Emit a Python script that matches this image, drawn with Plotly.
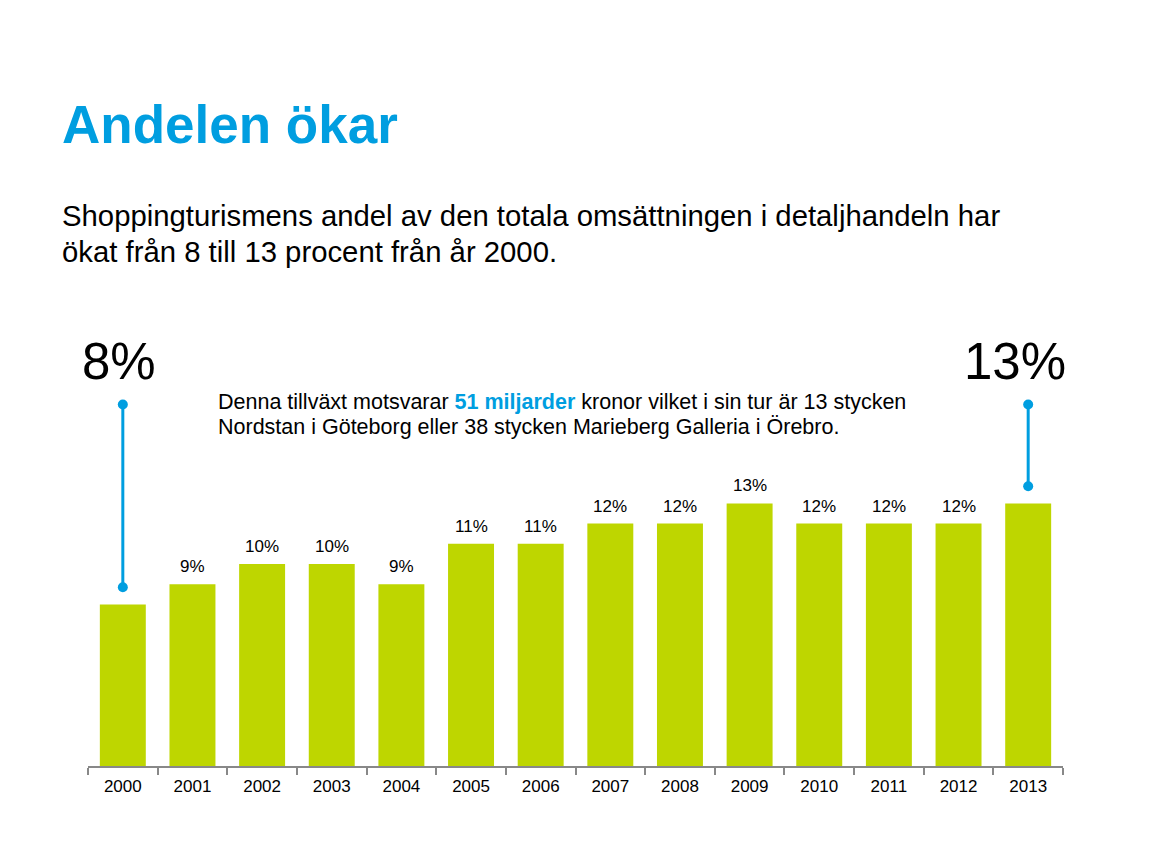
import plotly.graph_objects as go

years = ["2000", "2001", "2002", "2003", "2004", "2005", "2006",
         "2007", "2008", "2009", "2010", "2011", "2012", "2013"]
shares = [8, 9, 10, 10, 9, 11, 11, 12, 12, 13, 12, 12, 12, 13]
bar_labels = ["", "9%", "10%", "10%", "9%", "11%", "11%", "12%", "12%", "13%",
              "12%", "12%", "12%", ""]
highlight_years = ["2000", "2013"]
highlight_values = [8, 13]
highlight_texts = ["8%", "13%"]

GREEN = "#bed600"
BLUE = "#009ee0"
FONT = "Liberation Sans, Arial, sans-serif"

# page renders figure offset by 8px; work in page pixels and convert
OFF = 8
W, H = 1168, 854
L, R, T, B = 88 - OFF, 1168 - (1063 - OFF), 362 - OFF, 854 - (766 - OFF)
PW, PH = W - L - R, H - T - B


def px(x):
    return (x - OFF - L) / PW


def py(y):
    return (H - B - (y - OFF)) / PH


fig = go.Figure()
fig.add_trace(go.Bar(
    x=years, y=shares, marker=dict(color=GREEN, line=dict(width=0)),
    width=0.66, hoverinfo="skip", showlegend=False,
))

# bar value labels
for i, (v, lab) in enumerate(zip(shares, bar_labels)):
    if lab:
        fig.add_annotation(x=i, y=v, text=lab, showarrow=False,
                           yanchor="bottom", yshift=6,
                           font=dict(family=FONT, size=17, color="#000000"))

# highlight connectors
line_top = 17.9
text_shift = {"2000": -0.05, "2013": -0.19}
for yr, v, t in zip(highlight_years, highlight_values, highlight_texts):
    idx = years.index(yr)
    fig.add_trace(go.Scatter(
        x=[yr, yr], y=[v + 0.85, line_top], mode="lines+markers",
        line=dict(color=BLUE, width=3), marker=dict(color=BLUE, size=10),
        hoverinfo="skip", showlegend=False,
    ))
    fig.add_annotation(x=idx + text_shift[yr], y=line_top, text=t,
                       showarrow=False, yanchor="bottom", yshift=12,
                       font=dict(family=FONT, size=51, color="#000000"))

# title & subtitle
fig.add_annotation(xref="paper", yref="paper", x=px(60), y=py(125),
                   xanchor="left", yanchor="middle", showarrow=False,
                   text="<b>Andelen ökar</b>",
                   font=dict(family=FONT, size=53, color=BLUE))
fig.add_annotation(xref="paper", yref="paper", x=px(60), y=py(216),
                   xanchor="left", yanchor="middle", showarrow=False,
                   text="Shoppingturismens andel av den totala omsättningen i detaljhandeln har",
                   font=dict(family=FONT, size=29.3, color="#000000"))
fig.add_annotation(xref="paper", yref="paper", x=px(60), y=py(251),
                   xanchor="left", yanchor="middle", showarrow=False,
                   text="ökat från 8 till 13 procent från år 2000.",
                   font=dict(family=FONT, size=29.3, color="#000000"))

# explanatory text
fig.add_annotation(xref="paper", yref="paper", x=px(216), y=py(402),
                   xanchor="left", yanchor="middle", align="left", showarrow=False,
                   text=("Denna tillväxt motsvarar <b><span style='color:" + BLUE +
                         "'>51 miljarder</span></b> kronor vilket i sin tur är 13 stycken"),
                   font=dict(family=FONT, size=21.5, color="#000000"))
fig.add_annotation(xref="paper", yref="paper", x=px(216), y=py(427),
                   xanchor="left", yanchor="middle", align="left", showarrow=False,
                   text="Nordstan i Göteborg eller 38 stycken Marieberg Galleria i Örebro.",
                   font=dict(family=FONT, size=21.5, color="#000000"))

fig.update_layout(
    width=W, height=H,
    margin=dict(l=L, r=R, t=T, b=B, pad=0),
    paper_bgcolor="white", plot_bgcolor="white",
    xaxis=dict(
        type="category", range=[-0.5, 13.5], showgrid=False, zeroline=False,
        showline=True, linecolor="#888888", linewidth=1.5,
        ticks="outside", tickson="boundaries", ticklen=7, tickcolor="#888888",
        tickwidth=1.5, ticklabelstandoff=4,
        tickfont=dict(family=FONT, size=17, color="#000000"),
    ),
    yaxis=dict(range=[0, 20], visible=False, fixedrange=True),
    font=dict(family=FONT),
)

fig.write_html("out.html")
